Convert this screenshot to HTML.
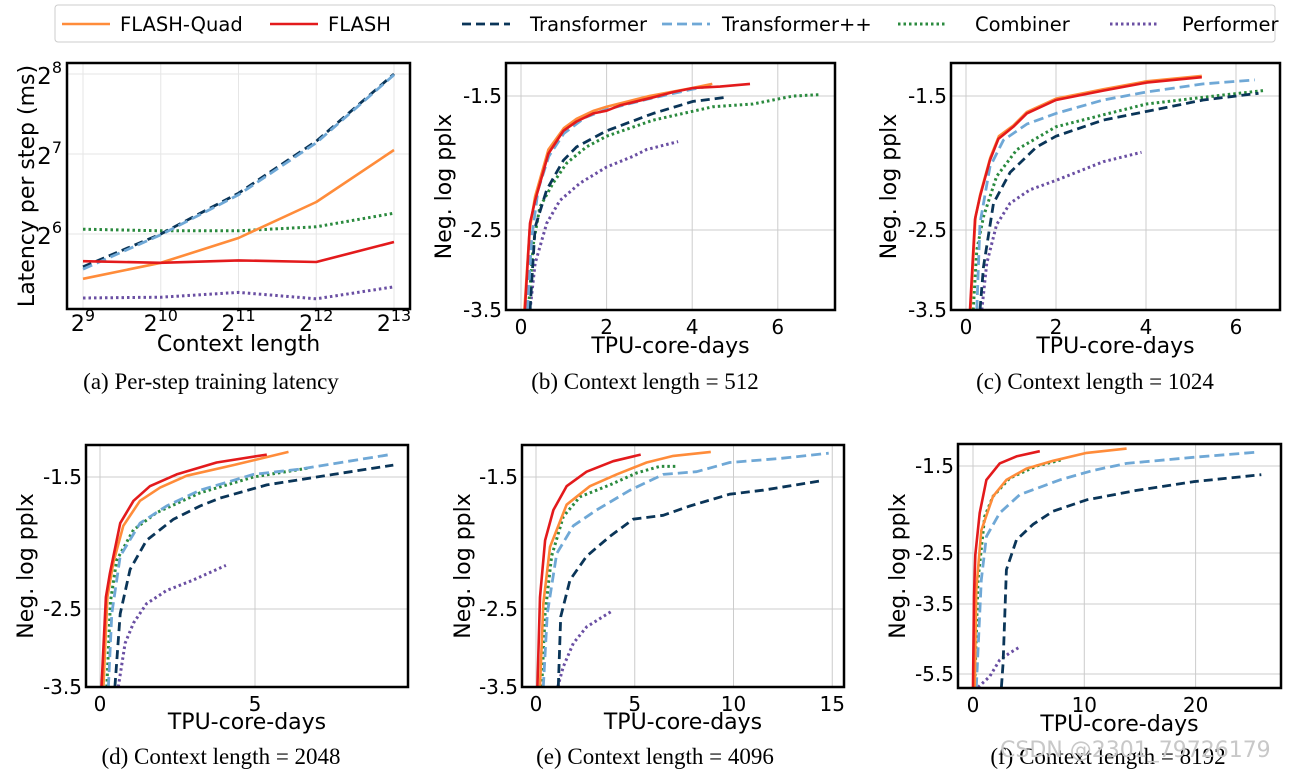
<!DOCTYPE html>
<html><head><meta charset="utf-8"><style>
html,body{margin:0;padding:0;background:#fff;}
svg{display:block;}
.t{font-family:"DejaVu Sans","Liberation Sans",sans-serif;font-size:20px;fill:#000;}
.al{font-size:22px;}
.lg{font-size:19.5px;}
.cap{font-family:"Liberation Serif",serif;font-size:23px;fill:#000;}
</style></head><body>
<svg id="fig" width="1303" height="770" viewBox="0 0 1303 770" xmlns="http://www.w3.org/2000/svg">
<g id="legend">
<rect x="55" y="5" width="1220" height="37" fill="#fff" stroke="#ccc" stroke-width="1" rx="3"/>
</g>
<g id="plots"></g>
<g>
<text class="cap" x="211" y="389" text-anchor="middle">(a)  Per-step training latency</text>
<text class="cap" x="645" y="389" text-anchor="middle">(b)  Context length = 512</text>
<text class="cap" x="1095" y="389" text-anchor="middle">(c)  Context length = 1024</text>
<text class="cap" x="221" y="764" text-anchor="middle">(d)  Context length = 2048</text>
<text class="cap" x="655" y="764" text-anchor="middle">(e)  Context length = 4096</text>
<text class="cap" x="1108" y="764" text-anchor="middle">(f)  Context length = 8192</text>
<text x="1000" y="757" style="font-family:'DejaVu Sans',sans-serif;font-size:22px;fill:#c8c8c8">CSDN @2301_79726179</text>
</g>
</svg>
<script>
// ---------- data ----------
const seriesNames = ["FLASH-Quad","FLASH","Transformer","Transformer++","Combiner","Performer"];
// panel (a): log2(context) vs log2(latency ms)
const aContext = [9,10,11,12,13];
const aFlashQuad = [5.44,5.64,5.95,6.4,7.05];
const aFlash = [5.66,5.64,5.67,5.65,5.9];
const aTransformer = [5.59,6.0,6.51,7.16,8.0];
const aTransformerPP = [5.56,5.99,6.49,7.14,7.99];
const aCombiner = [6.06,6.04,6.04,6.09,6.26];
const aPerformer = [5.2,5.21,5.27,5.19,5.34];
// panel (b) [TPU-core-days, neg log pplx]
const bFlashQuad = [[0.08,-3.5],[0.2,-2.5],[0.33,-2.25],[0.64,-1.9],[1.0,-1.74],[1.3,-1.67],[1.7,-1.61],[2.0,-1.58],[2.5,-1.54],[3.0,-1.5],[3.5,-1.47],[4.0,-1.44],[4.47,-1.41]];
const bFlash = [[0.09,-3.5],[0.21,-2.45],[0.33,-2.28],[0.64,-1.93],[0.99,-1.76],[1.3,-1.69],[1.69,-1.63],[2.0,-1.61],[2.31,-1.57],[3.09,-1.51],[3.56,-1.47],[4.02,-1.44],[4.65,-1.43],[5.35,-1.41]];
const bTransformer = [[0.21,-3.5],[0.33,-2.48],[0.6,-2.2],[0.99,-1.98],[1.3,-1.88],[2.0,-1.76],[3.09,-1.63],[4.02,-1.54],[4.8,-1.51]];
const bTransformerPP = [[0.15,-3.5],[0.25,-2.6],[0.4,-2.2],[0.65,-1.95],[1.0,-1.78],[1.5,-1.66],[2.0,-1.6],[3.0,-1.52],[4.0,-1.45],[4.5,-1.42]];
const bCombiner = [[0.17,-3.5],[0.29,-2.67],[0.44,-2.33],[0.75,-2.15],[1.07,-2.0],[1.53,-1.88],[2.0,-1.8],[3.09,-1.68],[4.49,-1.58],[5.42,-1.56],[6.36,-1.5],[6.98,-1.49]];
const bPerformer = [[0.21,-3.5],[0.33,-2.92],[0.6,-2.45],[0.91,-2.28],[1.38,-2.15],[2.0,-2.03],[2.62,-1.95],[2.93,-1.9],[3.67,-1.84]];
// panel (c)
const cFlashQuad = [[0.1,-3.5],[0.21,-2.4],[0.32,-2.23],[0.54,-1.96],[0.73,-1.8],[1.05,-1.72],[1.35,-1.62],[2.0,-1.52],[3.05,-1.45],[4.01,-1.39],[5.24,-1.35]];
const cFlash = [[0.09,-3.5],[0.2,-2.42],[0.31,-2.25],[0.53,-1.98],[0.72,-1.82],[1.05,-1.73],[1.35,-1.63],[2.0,-1.53],[3.05,-1.46],[4.01,-1.4],[5.24,-1.36]];
const cTransformer = [[0.31,-3.5],[0.39,-2.96],[0.61,-2.3],[0.98,-2.07],[1.57,-1.88],[2.0,-1.8],[3.05,-1.68],[3.94,-1.62],[5.27,-1.53],[6.5,-1.48]];
const cTransformerPP = [[0.24,-3.5],[0.31,-2.45],[0.53,-2.03],[0.83,-1.83],[1.35,-1.71],[2.0,-1.63],[3.05,-1.53],[4.01,-1.47],[5.27,-1.41],[6.42,-1.38]];
const cCombiner = [[0.16,-3.5],[0.24,-2.75],[0.39,-2.4],[0.68,-2.1],[1.13,-1.9],[2.0,-1.73],[3.05,-1.64],[4.01,-1.56],[5.27,-1.51],[6.6,-1.46]];
const cPerformer = [[0.35,-3.5],[0.46,-2.92],[0.68,-2.46],[0.98,-2.3],[1.42,-2.2],[2.0,-2.13],[3.05,-1.99],[3.9,-1.92]];
// panel (d)
const dFlashQuad = [[0.11,-3.5],[0.24,-2.41],[0.43,-2.15],[0.75,-1.87],[1.29,-1.68],[1.94,-1.58],[2.8,-1.49],[4.3,-1.41],[6.08,-1.31]];
const dFlash = [[0.05,-3.5],[0.19,-2.41],[0.32,-2.23],[0.65,-1.85],[1.08,-1.68],[1.61,-1.57],[2.47,-1.48],[3.76,-1.39],[5.38,-1.33]];
const dTransformer = [[0.48,-3.5],[0.65,-2.56],[0.97,-2.2],[1.5,-1.98],[2.37,-1.82],[3.23,-1.72],[3.87,-1.66],[5.38,-1.56],[7.53,-1.48],[9.46,-1.41]];
const dTransformerPP = [[0.27,-3.5],[0.38,-2.56],[0.65,-2.1],[1.29,-1.85],[2.15,-1.72],[3.23,-1.6],[4.95,-1.48],[6.45,-1.44],[9.35,-1.33]];
const dCombiner = [[0.22,-3.5],[0.34,-2.44],[0.54,-2.13],[1.08,-1.9],[1.83,-1.77],[3.23,-1.62],[4.95,-1.5],[6.77,-1.43]];
const dPerformer = [[0.59,-3.5],[0.81,-2.94],[1.08,-2.68],[1.5,-2.46],[2.15,-2.36],[3.01,-2.28],[4.06,-2.17]];
// panel (e)
const eFlashQuad = [[0.2,-3.5],[0.37,-2.46],[0.71,-2.03],[1.55,-1.71],[2.73,-1.57],[4.08,-1.48],[5.6,-1.39],[6.95,-1.34],[8.85,-1.31]];
const eFlash = [[0.07,-3.5],[0.2,-2.41],[0.46,-1.98],[0.88,-1.75],[1.55,-1.57],[2.56,-1.46],[3.91,-1.38],[5.3,-1.33]];
const eTransformer = [[1.13,-3.5],[1.25,-2.6],[1.72,-2.28],[2.56,-2.1],[3.74,-1.95],[4.92,-1.82],[6.44,-1.79],[7.79,-1.72],[9.81,-1.63],[11.5,-1.6],[14.37,-1.53]];
const eTransformerPP = [[0.37,-3.5],[0.57,-2.56],[1.05,-2.08],[1.89,-1.87],[3.07,-1.75],[4.76,-1.6],[6.44,-1.48],[8.13,-1.46],[9.81,-1.39],[12.34,-1.36],[14.82,-1.32]];
const eCombiner = [[0.29,-3.5],[0.46,-2.56],[0.79,-2.1],[1.38,-1.8],[2.23,-1.65],[3.74,-1.56],[5.09,-1.47],[6.27,-1.42],[7.08,-1.42]];
const ePerformer = [[1.1,-3.5],[1.38,-3.24],[1.89,-2.94],[2.56,-2.73],[3.83,-2.53]];
// panel (f)
const fFlashQuad = [[0.15,-5.88],[0.3,-3.22],[0.75,-2.24],[1.8,-1.85],[3.0,-1.66],[4.8,-1.53],[7.2,-1.44],[10.2,-1.35],[13.8,-1.3]];
const fFlash = [[0.0,-5.88],[0.09,-3.35],[0.21,-2.54],[0.6,-2.04],[1.2,-1.66],[2.4,-1.47],[3.9,-1.39],[6.0,-1.33]];
const fTransformer = [[2.55,-5.88],[2.7,-5.19],[3.0,-2.83],[3.9,-2.35],[5.4,-2.17],[7.2,-2.02],[10.2,-1.89],[14.7,-1.78],[19.8,-1.68],[25.9,-1.6]];
const fTransformerPP = [[0.3,-5.88],[0.75,-3.03],[1.2,-2.31],[2.4,-2.04],[4.2,-1.83],[7.8,-1.66],[10.8,-1.55],[13.8,-1.47],[19.8,-1.4],[25.6,-1.34]];
const fCombiner = [[0.15,-5.88],[0.45,-3.03],[1.05,-2.08],[1.8,-1.85],[3.3,-1.64],[5.7,-1.5],[7.95,-1.43]];
const fPerformer = [[0.45,-5.88],[1.5,-5.57],[2.4,-5.1],[3.3,-4.9],[4.2,-4.73]];
// tick labels
const aXTicks = [9,10,11,12,13];
const aYTicks = [6,7,8];
const bXTicks = [0,2,4,6];
const cXTicks = [0,2,4,6];
const dXTicks = [0,5];
const eXTicks = [0,5,10,15];
const fXTicks = [0,10,20];
const pplxYTicks = [-1.5,-2.5,-3.5];
const fYTicks = [-1.5,-2.5,-3.5,-5.5];

// ---------- styles ----------
const STY = {
 "FLASH-Quad":{c:"#ff8c3a",w:2.6,d:""},
 "FLASH":{c:"#e31a1c",w:2.6,d:""},
 "Transformer":{c:"#0a3558",w:2.8,d:"9,5"},
 "Transformer++":{c:"#6fa8d6",w:2.8,d:"10,5"},
 "Combiner":{c:"#2a8a3e",w:3,d:"2.5,3"},
 "Performer":{c:"#6a4fa3",w:3,d:"2.5,3"}
};
const NS="http://www.w3.org/2000/svg";
const fig=document.getElementById('plots');
function mk(tag,attrs,parent){const e=document.createElementNS(NS,tag);for(const k in attrs)e.setAttribute(k,attrs[k]);(parent||fig).appendChild(e);return e;}

// legend
const legPos=[[62,120],[270,328],[462,530],[662,722],[898,975],[1110,1182]];
const leg=document.getElementById('legend');
seriesNames.forEach((n,i)=>{
 const s=STY[n];
 const g=mk('g',{},leg);
 
 
 mk('line',{x1:legPos[i][0],x2:legPos[i][0]+48,y1:24,y2:24,stroke:s.c,'stroke-width':s.w,'stroke-dasharray':s.d},g);
 const t=mk('text',{x:legPos[i][1],y:31,class:'t lg'},g);t.textContent=n;
});

function ySeg(ticks,pix){return v=>{let i=0;
  for(i=0;i<ticks.length-2;i++){if(v>=ticks[i+1])break;}
  const t0=ticks[i],t1=ticks[i+1],p0=pix[i],p1=pix[i+1];
  return p0+(v-t0)*(p1-p0)/(t1-t0);};}

function panel(id,box,xs,ys,xticks,yticks,series,opts){
 const g=mk('g',{});
 
 
 const [L,T,R,B]=box;
 const cp=mk('clipPath',{id:'clip'+id},g);mk('rect',{x:L,y:T,width:R-L,height:B-T},cp);
 const grid=mk('g',{},g);
 
 
 xticks.forEach(v=>{const x=xs(v);mk('line',{x1:x,x2:x,y1:T,y2:B,stroke:opts.gc,'stroke-width':1},grid);
   const t=mk('text',{x:x,y:B+opts.tx,'text-anchor':'middle',class:'t'},g);
   
   
   if(opts.pow){t.setAttribute('style','font-size:22px');t.textContent='2';const s=mk('tspan',{dy:-10,style:'font-size:16px'},t);s.textContent=String(v);}
   else t.textContent=String(v);});
 yticks.forEach(v=>{const y=ys(v);mk('line',{x1:L,x2:R,y1:y,y2:y,stroke:opts.gc,'stroke-width':1},grid);
   const t=mk('text',{x:L-4,y:y+7,'text-anchor':'end',class:'t'},g);
   
   
   if(opts.pow){t.setAttribute('x',L-5);t.setAttribute('y',y+10);t.setAttribute('style','font-size:23px');t.textContent='2';const s=mk('tspan',{dy:-11,style:'font-size:16px'},t);s.textContent=String(v);}
   else t.textContent=String(v);});
 const lines=mk('g',{'clip-path':'url(#clip'+id+')'},g);
 series.forEach(([name,pts])=>{const s=STY[name];
   const d=pts.map((p,i)=>(i?'L':'M')+xs(p[0]).toFixed(1)+' '+ys(p[1]).toFixed(1)).join(' ');
   const p=mk('path',{d:d,fill:'none',stroke:s.c,'stroke-width':s.w,'stroke-dasharray':s.d,'stroke-linejoin':'round'},lines);
   
   });
 const fr=mk('rect',{x:L,y:T,width:R-L,height:B-T,fill:'none',stroke:'#000','stroke-width':2.5},g);
 
 
 const xl=mk('text',{x:(L+R)/2,y:B+opts.lx,'text-anchor':'middle',class:'t al'},g);
 
 
 xl.textContent=opts.xlab;
 const yl=mk('text',{x:0,y:0,'text-anchor':'middle',class:'t al',transform:'translate('+opts.ylx+','+((T+B)/2)+') rotate(-90)'},g);
 
 
 yl.textContent=opts.ylab;
}
function pairs(xa,ya){return xa.map((x,i)=>[x,ya[i]]);}
function ordered(fq,fl,tr,tp,cb,pf){return [["Performer",pf],["Combiner",cb],["Transformer",tr],["Transformer++",tp],["FLASH-Quad",fq],["FLASH",fl]];}

// (a)
panel('a',[67,63,410,309],v=>83+(v-9)*77.75,v=>74+(8-v)*80,aXTicks,aYTicks,
 ordered(pairs(aContext,aFlashQuad),pairs(aContext,aFlash),pairs(aContext,aTransformer),pairs(aContext,aTransformerPP),pairs(aContext,aCombiner),pairs(aContext,aPerformer)),
 {gc:'#e6e6e6',tx:22,lx:42,xlab:'Context length',ylab:'Latency per step (ms)',ylx:34,pow:true});
// (b)
panel('b',[506,63,835,310],v=>521+v*42.8,ySeg(pplxYTicks,[96,230,310]),bXTicks,pplxYTicks,
 ordered(bFlashQuad,bFlash,bTransformer,bTransformerPP,bCombiner,bPerformer),
 {gc:'#cccccc',tx:24,lx:43,xlab:'TPU-core-days',ylab:'Neg. log pplx',ylx:451});
// (c)
panel('c',[951,63,1280,310],v=>966+v*45,ySeg(pplxYTicks,[96,230,310]),cXTicks,pplxYTicks,
 ordered(cFlashQuad,cFlash,cTransformer,cTransformerPP,cCombiner,cPerformer),
 {gc:'#cccccc',tx:24,lx:43,xlab:'TPU-core-days',ylab:'Neg. log pplx',ylx:896});
// (d)
panel('d',[86,445,408,687],v=>100+v*31,ySeg(pplxYTicks,[477,609,687]),dXTicks,pplxYTicks,
 ordered(dFlashQuad,dFlash,dTransformer,dTransformerPP,dCombiner,dPerformer),
 {gc:'#cccccc',tx:24,lx:42,xlab:'TPU-core-days',ylab:'Neg. log pplx',ylx:33});
// (e)
panel('e',[522,445,844,687],v=>536+v*19.75,ySeg(pplxYTicks,[477,609,687]),eXTicks,pplxYTicks,
 ordered(eFlashQuad,eFlash,eTransformer,eTransformerPP,eCombiner,ePerformer),
 {gc:'#cccccc',tx:24,lx:42,xlab:'TPU-core-days',ylab:'Neg. log pplx',ylx:470});
// (f)
panel('f',[958,444,1281,688],v=>973+v*11.13,ySeg(fYTicks,[466,553,604,674]),fXTicks,fYTicks,
 ordered(fFlashQuad,fFlash,fTransformer,fTransformerPP,fCombiner,fPerformer),
 {gc:'#cccccc',tx:24,lx:43,xlab:'TPU-core-days',ylab:'Neg. log pplx',ylx:905});
</script>
</body></html>
